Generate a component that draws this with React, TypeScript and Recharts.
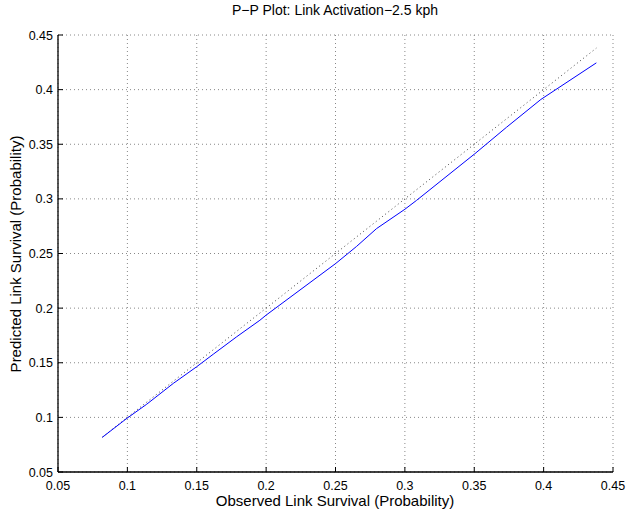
import React from 'react'
import { LineChart, Line, XAxis, YAxis, CartesianGrid } from 'recharts'

const observed = [0.0819, 0.099, 0.1139, 0.1331, 0.1499, 0.1619, 0.1787, 0.1955, 0.1999, 0.2501, 0.2652, 0.2796, 0.3, 0.3084, 0.3504, 0.3733, 0.398, 0.438]
const predicted = [0.0817, 0.0985, 0.112, 0.1311, 0.1463, 0.1578, 0.1737, 0.1889, 0.1935, 0.2408, 0.2565, 0.2728, 0.2905, 0.2986, 0.3413, 0.3656, 0.391, 0.4245]
const refLine = [0.082, 0.438]
const ticks = [0.05, 0.1, 0.15, 0.2, 0.25, 0.3, 0.35, 0.4, 0.45]

const curve = observed.map((x, i) => ({ x, y: predicted[i] }))
const diag = refLine.map(v => ({ x: v, y: v }))

const FONT = 'Liberation Sans, Arial, Helvetica, sans-serif'
const fmt = (v: number) => String(Number(v.toFixed(2)))

function XTick({ x, y, payload }: any) {
  const axisY = y - 4
  return (
    <g>
      <line x1={x} x2={x} y1={axisY} y2={axisY - 5} stroke="#000" />
      <text x={x} y={axisY + 18} textAnchor="middle" fontSize={12.5} fontFamily={FONT} fill="#000">
        {fmt(payload.value)}
      </text>
    </g>
  )
}

function YTick({ x, y, payload }: any) {
  const axisX = x + 4
  return (
    <g>
      <line x1={axisX} x2={axisX + 5} y1={y} y2={y} stroke="#000" />
      <text x={axisX - 5} y={y + 4.5} textAnchor="end" fontSize={12.5} fontFamily={FONT} fill="#000">
        {fmt(payload.value)}
      </text>
    </g>
  )
}

export default function App() {
  return (
    <div style={{ position: 'absolute', left: 0, top: 0, width: 627, height: 517, background: '#fff' }}>
      <LineChart width={627} height={517} margin={{ top: 35, right: 14, bottom: 15, left: 8 }}>
        <CartesianGrid stroke="#888" strokeDasharray="1 3" />
        <XAxis
          dataKey="x"
          type="number"
          domain={[0.05, 0.45]}
          ticks={ticks}
          allowDataOverflow
          height={30}
          tickSize={0}
          tickMargin={4}
          tick={<XTick />}
          axisLine={{ stroke: '#000', strokeWidth: 1.3 }}
        />
        <YAxis
          dataKey="y"
          type="number"
          domain={[0.05, 0.45]}
          ticks={ticks}
          allowDataOverflow
          width={50}
          tickSize={0}
          tickMargin={4}
          tick={<YTick />}
          axisLine={{ stroke: '#000', strokeWidth: 1.3 }}
        />
        <Line data={diag} dataKey="y" stroke="#444" strokeDasharray="1 3" strokeWidth={1} dot={false} isAnimationActive={false} />
        <Line data={curve} dataKey="y" stroke="#0000ff" strokeWidth={1} dot={false} isAnimationActive={false} />
        <text x={335} y={15} textAnchor="middle" fontSize={14} fontFamily={FONT} fill="#000">
          P−P Plot: Link Activation−2.5 kph
        </text>
        <text x={335} y={506} textAnchor="middle" fontSize={15} fontFamily={FONT} fill="#000">
          Observed Link Survival (Probability)
        </text>
        <text x={21} y={254} textAnchor="middle" fontSize={15} fontFamily={FONT} fill="#000" transform="rotate(-90 21 254)">
          Predicted Link Survival (Probability)
        </text>
      </LineChart>
    </div>
  )
}
